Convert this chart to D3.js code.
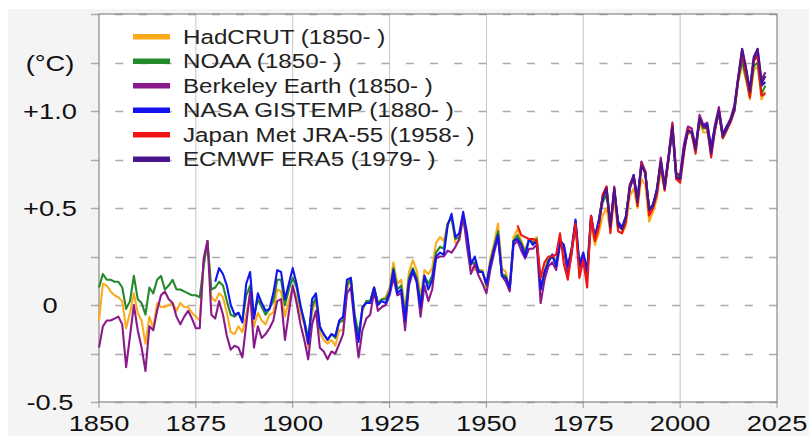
<!DOCTYPE html>
<html lang="en">
<head>
  <meta charset="UTF-8">
  <title>Global temperature anomaly</title>
  <style>
    body { margin: 0; background: #fff; }
    svg { display: block; font-family: "Liberation Sans", Arial, sans-serif; }
    .series { fill: none; stroke-width: 2.1; stroke-linejoin: round; }
  </style>
</head>
<body>
<div id="chart"></div>

<script src="https://cdn.jsdelivr.net/npm/d3@7/dist/d3.min.js"></script>
<script>
  // annual anomalies, one value per year from each start year
  const hadcrutStart = 1850;
  const hadcrut = [
    -0.08, 0.11, 0.10, 0.07, 0.05, 0.04, 0.02, -0.12, -0.04, 0.06,
    -0.04, -0.08, -0.20, -0.06, -0.12, 0.01, -0.01, -0.01, 0.00, 0.01,
    -0.03, 0.01, -0.01, -0.01, -0.04, -0.06, -0.08, 0.20, 0.33, 0.04,
    0.02, 0.06, 0.04, -0.04, -0.14, -0.15, -0.11, -0.14, -0.05, 0.05,
    -0.11, -0.04, -0.08, -0.10, -0.05, -0.04, 0.08, 0.07, -0.06, 0.02,
    0.09, 0.04, -0.05, -0.10, -0.22, -0.04, 0.03, -0.14, -0.18, -0.20,
    -0.18, -0.21, -0.13, -0.13, 0.08, 0.14, -0.06, -0.17, -0.03, 0.02,
    0.02, 0.09, 0.01, 0.03, 0.04, 0.09, 0.22, 0.11, 0.13, -0.03,
    0.17, 0.23, 0.18, 0.04, 0.18, 0.16, 0.19, 0.32, 0.35, 0.33,
    0.42, 0.45, 0.32, 0.33, 0.45, 0.34, 0.20, 0.18, 0.18, 0.18,
    0.09, 0.24, 0.32, 0.42, 0.19, 0.17, 0.08, 0.35, 0.39, 0.33,
    0.28, 0.34, 0.33, 0.35, 0.09, 0.18, 0.24, 0.26, 0.22, 0.33,
    0.28, 0.19, 0.29, 0.40, 0.19, 0.26, 0.16, 0.41, 0.31, 0.37,
    0.46, 0.50, 0.38, 0.55, 0.38, 0.37, 0.41, 0.56, 0.60, 0.50,
    0.65, 0.62, 0.43, 0.48, 0.55, 0.69, 0.59, 0.75, 0.93, 0.68,
    0.67, 0.82, 0.88, 0.89, 0.83, 0.94, 0.89, 0.89, 0.81, 0.90,
    1.00, 0.87, 0.92, 0.96, 1.00, 1.15, 1.24, 1.16, 1.06, 1.21,
    1.23, 1.06, 1.10
  ];

  const noaaStart = 1850;
  const noaa = [
    0.09, 0.16, 0.13, 0.13, 0.12, 0.12, 0.09, -0.02, 0.02, 0.15,
    0.03, 0.01, -0.05, 0.09, 0.06, 0.13, 0.15, 0.08, 0.10, 0.13,
    0.08, 0.08, 0.07, 0.06, 0.05, 0.05, 0.04, 0.20, 0.33, 0.08,
    0.09, 0.12, 0.10, 0.02, -0.05, -0.06, -0.04, -0.08, 0.05, 0.10,
    -0.06, 0.03, -0.01, -0.05, -0.02, 0.02, 0.13, 0.13, 0.00, 0.08,
    0.14, 0.09, -0.01, -0.08, -0.17, -0.01, 0.04, -0.12, -0.15, -0.18,
    -0.15, -0.17, -0.09, -0.08, 0.10, 0.14, -0.05, -0.15, -0.02, 0.02,
    0.02, 0.09, 0.01, 0.03, 0.03, 0.07, 0.19, 0.08, 0.10, -0.05,
    0.14, 0.19, 0.14, 0.01, 0.15, 0.11, 0.15, 0.27, 0.30, 0.29,
    0.42, 0.45, 0.34, 0.35, 0.46, 0.35, 0.21, 0.22, 0.18, 0.17,
    0.10, 0.22, 0.30, 0.38, 0.16, 0.15, 0.08, 0.33, 0.36, 0.32,
    0.27, 0.34, 0.32, 0.34, 0.08, 0.17, 0.23, 0.25, 0.21, 0.34,
    0.30, 0.19, 0.29, 0.43, 0.20, 0.26, 0.17, 0.44, 0.34, 0.42,
    0.53, 0.57, 0.42, 0.59, 0.42, 0.39, 0.45, 0.60, 0.66, 0.54,
    0.72, 0.68, 0.49, 0.52, 0.59, 0.72, 0.61, 0.76, 0.92, 0.67,
    0.66, 0.81, 0.89, 0.89, 0.80, 0.95, 0.91, 0.91, 0.79, 0.91,
    0.99, 0.86, 0.90, 0.95, 1.00, 1.16, 1.26, 1.17, 1.08, 1.23,
    1.25, 1.09, 1.13
  ];

  const berkeleyStart = 1850;
  const berkeley = [
    -0.22, -0.11, -0.08, -0.08, -0.07, -0.06, -0.10, -0.32, -0.16, 0.00,
    -0.13, -0.22, -0.34, -0.11, -0.13, -0.03, 0.05, 0.07, 0.03, 0.01,
    -0.06, -0.10, -0.06, -0.03, -0.07, -0.12, -0.12, 0.24, 0.33, -0.05,
    -0.07, 0.02, -0.05, -0.16, -0.23, -0.21, -0.22, -0.27, -0.10, 0.07,
    -0.22, -0.11, -0.17, -0.15, -0.12, -0.08, 0.02, 0.03, -0.18, -0.04,
    0.10, 0.01, -0.10, -0.18, -0.28, -0.10, -0.03, -0.22, -0.24, -0.28,
    -0.24, -0.25, -0.20, -0.15, 0.06, 0.09, -0.10, -0.27, -0.13, -0.07,
    -0.05, 0.07, -0.03, -0.01, 0.00, 0.05, 0.14, 0.05, 0.06, -0.13,
    0.10, 0.17, 0.12, -0.06, 0.10, 0.02, 0.08, 0.24, 0.25, 0.25,
    0.28, 0.27, 0.30, 0.34, 0.46, 0.30, 0.16, 0.21, 0.15, 0.11,
    0.06, 0.18, 0.27, 0.35, 0.15, 0.12, 0.07, 0.31, 0.33, 0.28,
    0.24, 0.29, 0.29, 0.31, 0.01, 0.13, 0.20, 0.22, 0.18, 0.31,
    0.29, 0.15, 0.26, 0.43, 0.19, 0.25, 0.14, 0.46, 0.34, 0.43,
    0.56, 0.61, 0.40, 0.61, 0.41, 0.39, 0.45, 0.62, 0.67, 0.53,
    0.74, 0.69, 0.48, 0.52, 0.59, 0.76, 0.62, 0.77, 0.94, 0.68,
    0.67, 0.83, 0.92, 0.91, 0.81, 0.98, 0.93, 0.94, 0.81, 0.93,
    1.02, 0.88, 0.92, 0.96, 1.03, 1.18, 1.32, 1.22, 1.11, 1.28,
    1.32, 1.16, 1.20
  ];

  const nasaStart = 1880;
  const nasa = [
    0.12, 0.19, 0.16, 0.10, 0.00, -0.05, -0.04, -0.09, 0.11, 0.17,
    -0.07, 0.06, 0.01, -0.03, -0.02, 0.06, 0.18, 0.17, 0.03, 0.11,
    0.19, 0.11, 0.00, -0.09, -0.20, 0.03, 0.06, -0.11, -0.15, -0.18,
    -0.15, -0.16, -0.08, -0.06, 0.13, 0.14, -0.08, -0.19, -0.01, 0.01,
    0.01, 0.09, 0.00, 0.02, 0.01, 0.06, 0.18, 0.06, 0.08, -0.08,
    0.12, 0.18, 0.12, -0.01, 0.15, 0.08, 0.13, 0.25, 0.27, 0.26,
    0.41, 0.47, 0.35, 0.37, 0.48, 0.37, 0.21, 0.25, 0.17, 0.17,
    0.11, 0.21, 0.29, 0.36, 0.15, 0.14, 0.09, 0.33, 0.34, 0.31,
    0.25, 0.34, 0.31, 0.33, 0.08, 0.17, 0.22, 0.26, 0.20, 0.33,
    0.31, 0.20, 0.29, 0.44, 0.21, 0.27, 0.18, 0.46, 0.35, 0.44,
    0.55, 0.60, 0.41, 0.59, 0.43, 0.40, 0.46, 0.60, 0.67, 0.55,
    0.73, 0.68, 0.50, 0.51, 0.60, 0.73, 0.61, 0.75, 0.90, 0.65,
    0.65, 0.81, 0.90, 0.89, 0.81, 0.96, 0.92, 0.93, 0.81, 0.92,
    1.00, 0.88, 0.92, 0.95, 1.02, 1.17, 1.29, 1.20, 1.11, 1.26,
    1.29, 1.13, 1.15
  ];

  const jraStart = 1958;
  const jra = [
    0.41, 0.36, 0.35, 0.34, 0.34, 0.33,
    0.14, 0.22, 0.25, 0.25, 0.26, 0.37,
    0.21, 0.13, 0.28, 0.42, 0.14, 0.23, 0.09, 0.46, 0.33, 0.40,
    0.57, 0.61, 0.37, 0.60, 0.38, 0.37, 0.43, 0.61, 0.66, 0.51,
    0.73, 0.69, 0.46, 0.50, 0.57, 0.74, 0.59, 0.75, 0.93, 0.65,
    0.63, 0.78, 0.91, 0.88, 0.78, 0.96, 0.92, 0.91, 0.76, 0.90,
    1.00, 0.86, 0.90, 0.94, 1.00, 1.16, 1.30, 1.19, 1.07, 1.26,
    1.28, 1.08, 1.09
  ];

  const era5Start = 1979;
  const era5 = [
    0.42,
    0.55, 0.60, 0.40, 0.60, 0.41, 0.39, 0.45, 0.61, 0.66, 0.53,
    0.72, 0.68, 0.49, 0.51, 0.59, 0.74, 0.60, 0.76, 0.92, 0.66,
    0.65, 0.80, 0.90, 0.89, 0.80, 0.96, 0.92, 0.92, 0.78, 0.91,
    1.00, 0.87, 0.91, 0.95, 1.01, 1.17, 1.32, 1.22, 1.10, 1.27,
    1.32, 1.14, 1.18
  ];

  const seriesNames = ["HadCRUT (1850- )", "NOAA (1850- )", "Berkeley Earth (1850- )",
    "NASA GISTEMP (1880- )", "Japan Met JRA-55 (1958- )", "ECMWF ERA5 (1979- )"];
  const seriesStarts = [hadcrutStart, noaaStart, berkeleyStart, nasaStart, jraStart, era5Start];
  const seriesValues = [hadcrut, noaa, berkeley, nasa, jra, era5];

  const xTicks = [1850, 1875, 1900, 1925, 1950, 1975, 2000, 2025];
  const yTicks = [-0.5, 0, 0.5, 1.0, 1.25];
  const yTickLabels = ["-0.5", "0", "+0.5", "+1.0", "(°C)"];
  const yGrid = [-0.5, -0.25, 0, 0.25, 0.5, 0.75, 1.0, 1.25, 1.5];

  const colors = ["#fbab1c", "#23892a", "#8a1a8c", "#1414f0", "#f01414", "#4a148c"];

  const W = 809, H = 436;
  const plot = {left: 99, right: 777, top: 14, bottom: 402};
  const stretch = 1.24; // text in the picture is a little wide

  const svg = d3.select("#chart").append("svg")
    .attr("width", W)
    .attr("height", H);

  svg.append("rect")
    .attr("x", 8).attr("y", 9)
    .attr("width", W - 8).attr("height", H - 9)
    .attr("fill", "#f4f4f4");

  const xScale = d3.scaleLinear().domain([1850, 2025]).range([plot.left, plot.right]);
  const yScale = d3.scaleLinear().domain([-0.5, 1.5]).range([plot.bottom, plot.top]);

  svg.append("rect")
    .attr("x", plot.left).attr("y", plot.top)
    .attr("width", plot.right - plot.left).attr("height", plot.bottom - plot.top)
    .attr("fill", "#fff");

  // vertical grid
  svg.selectAll(".vgrid")
    .data(xTicks.slice(1, -1))
    .enter().append("line")
    .attr("class", "vgrid")
    .attr("x1", d => xScale(d)).attr("x2", d => xScale(d))
    .attr("y1", plot.top).attr("y2", plot.bottom)
    .attr("stroke", "#c4c4c4")
    .attr("stroke-width", 1);

  // dashed horizontal grid, the first dash doubles as the tick
  const dashStep = (xScale(1875) - xScale(1850)) / 4;
  svg.selectAll(".hgrid")
    .data(yGrid)
    .enter().append("line")
    .attr("class", "hgrid")
    .attr("x1", plot.left - 8).attr("x2", plot.right)
    .attr("y1", d => Math.round(yScale(d)) + 0.5).attr("y2", d => Math.round(yScale(d)) + 0.5)
    .attr("stroke", "#aaa")
    .attr("stroke-width", 1.3)
    .attr("stroke-dasharray", "8," + (dashStep - 8));

  // bottom ticks
  svg.selectAll(".xtick")
    .data(xTicks)
    .enter().append("line")
    .attr("class", "xtick")
    .attr("x1", d => xScale(d)).attr("x2", d => xScale(d))
    .attr("y1", plot.bottom).attr("y2", plot.bottom + 6)
    .attr("stroke", "#999");

  // frame
  svg.append("rect")
    .attr("x", plot.left).attr("y", plot.top)
    .attr("width", plot.right - plot.left).attr("height", plot.bottom - plot.top)
    .attr("fill", "none")
    .attr("stroke", "#888")
    .attr("stroke-width", 1.2);

  const line = d3.line()
    .x(d => xScale(d.year))
    .y(d => yScale(d.value));

  seriesValues.forEach((vals, i) => {
    const pts = vals.map((v, k) => ({year: seriesStarts[i] + k, value: v}));
    svg.append("path")
      .datum(pts)
      .attr("class", "series")
      .attr("stroke", colors[i])
      .attr("d", line);
  });

  // axis labels
  svg.selectAll(".xlabel")
    .data(xTicks)
    .enter().append("text")
    .attr("class", "xlabel")
    .attr("transform", d => "translate(" + xScale(d) + "," + 431 + ") scale(" + stretch + ",1)")
    .attr("text-anchor", "middle")
    .attr("font-size", 22)
    .attr("fill", "#111")
    .text(d => d);

  svg.selectAll(".ylabel")
    .data(yTicks)
    .enter().append("text")
    .attr("class", "ylabel")
    .attr("transform", d => "translate(50," + (yScale(d) + 8) + ") scale(" + stretch + ",1)")
    .attr("text-anchor", "middle")
    .attr("font-size", 22)
    .attr("fill", "#111")
    .text((d, i) => yTickLabels[i]);

  // legend
  const legend = svg.append("g");
  seriesNames.forEach((name, i) => {
    const y = 36.7 + i * 24.5;
    legend.append("line")
      .attr("x1", 133).attr("x2", 170)
      .attr("y1", y).attr("y2", y)
      .attr("stroke", colors[i])
      .attr("stroke-width", 5.5);
    legend.append("text")
      .attr("transform", "translate(183," + (y + 7) + ") scale(" + stretch + ",1)")
      .attr("font-size", 19.5)
      .attr("fill", "#222")
      .text(name);
  });
</script>
</body>
</html>
